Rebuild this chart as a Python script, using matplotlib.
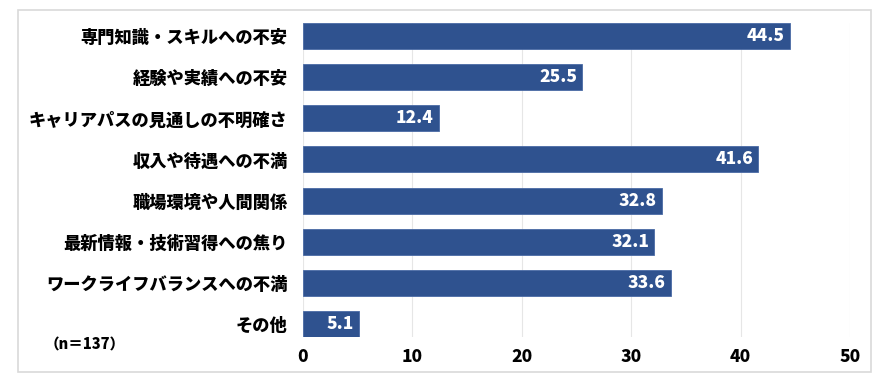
import matplotlib
matplotlib.use("Agg")
import matplotlib.pyplot as plt
from matplotlib.patches import Rectangle

plt.rcParams['font.family'] = ['Noto Sans CJK JP', 'DejaVu Sans']

categories = ["専門知識・スキルへの不安", "経験や実績への不安", "キャリアパスの見通しの不明確さ",
              "収入や待遇への不満", "職場環境や人間関係", "最新情報・技術習得への焦り",
              "ワークライフバランスへの不満", "その他"]
values = [44.5, 25.5, 12.4, 41.6, 32.8, 32.1, 33.6, 5.1]
xticks = [0, 10, 20, 30, 40, 50]
note = "（n＝137）"

W = "heavy"

fig = plt.figure(figsize=(8.88, 3.82), dpi=100)
fig.patches.append(Rectangle((18/888, 1-372/382), (871-18)/888, (372-10)/382,
                             transform=fig.transFigure, fill=False,
                             edgecolor="#D9D9D9", linewidth=1.2))
ax = fig.add_axes([303/888, 1-337/382, (850-303)/888, (337-23)/382])

bar_color = "#2F528F"
pos = list(range(len(categories)))
ax.barh(pos, values, height=0.63, color=bar_color, edgecolor="#4A6BA5", linewidth=0.6, zorder=3)
for p, v in zip(pos, values):
    ax.text(v - 0.45, p, f"{v:.1f}", ha="right", va="center", color="white",
            fontsize=12.5, fontweight=W, zorder=4)

ax.set_xlim(0, 50)
ax.set_ylim(len(categories) - 1 + 0.315, -0.315)
ax.set_xticks(xticks)
ax.set_xticklabels([str(t) for t in xticks], fontsize=12.5, fontweight=W)
ax.set_yticks(pos)
ax.set_yticklabels(categories, fontsize=12.4, fontweight=W)
ax.tick_params(axis="both", length=0)
ax.tick_params(axis="x", pad=8)
ax.tick_params(axis="y", pad=11)
for s in ax.spines.values():
    s.set_visible(False)
ax.grid(axis="x", color="#E6E6E6", linewidth=0.8, zorder=0)
ax.set_axisbelow(True)

fig.text(45/888, 1-345/382, note, fontsize=10.5, fontweight=W, va="center", ha="left")

fig.savefig("out.png", dpi=100)
